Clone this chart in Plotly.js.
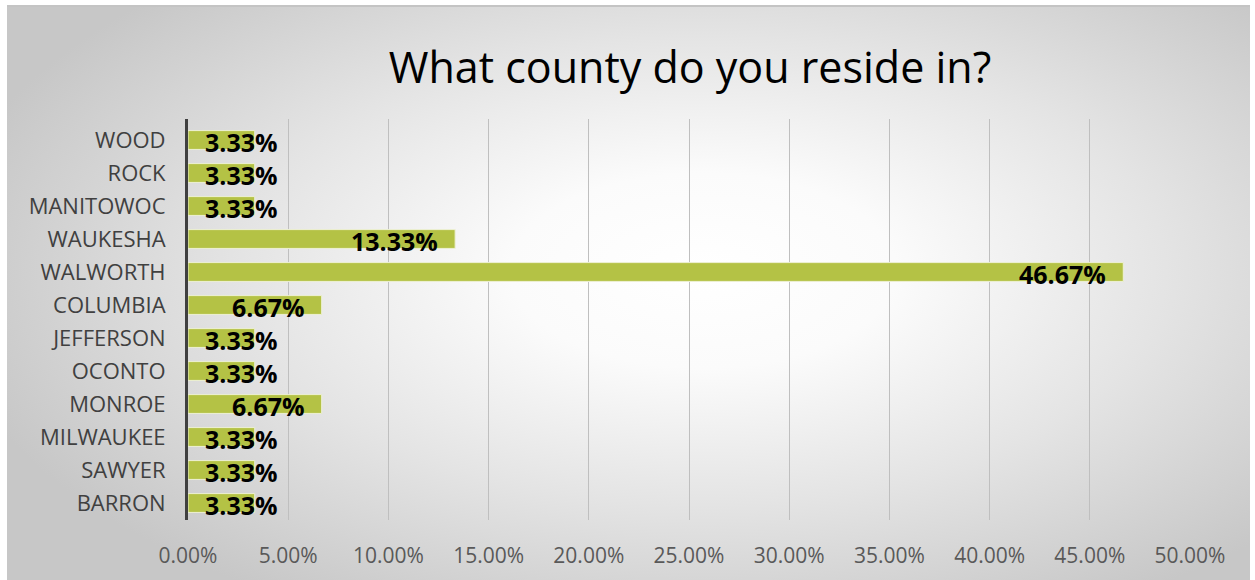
<!DOCTYPE html>
<html>
<head>
<meta charset="utf-8">
<script src="https://cdn.plot.ly/plotly-3.0.1.min.js"></script>
<style>
  html, body { margin: 0; padding: 0; background: #ffffff; }
  #bg {
    position: absolute; left: 7px; top: 5px; width: 1243px; height: 573px;
    border-top: 2px solid #c4c4c4;
    background: radial-gradient(ellipse 62% 68% at 56% 46%, #ffffff 0%, #fbfbfb 25%, #e4e4e4 60%, #c7c7c7 100%);
  }
  #chart { position: absolute; left: 0; top: 0; width: 1255px; height: 580px; }
</style>
</head>
<body>
<div id="bg"></div>
<div id="chart"></div>
<script>
const categories = ["WOOD", "ROCK", "MANITOWOC", "WAUKESHA", "WALWORTH", "COLUMBIA",
                    "JEFFERSON", "OCONTO", "MONROE", "MILWAUKEE", "SAWYER", "BARRON"];
const values = [3.33, 3.33, 3.33, 13.33, 46.67, 6.67, 3.33, 3.33, 6.67, 3.33, 3.33, 3.33];
const xTicks = [0, 5, 10, 15, 20, 25, 30, 35, 40, 45, 50];
const xTickLabels = xTicks.map(v => v.toFixed(2) + "%");
const titleText = "What county do you reside in?";

const trace = {
  type: "bar",
  orientation: "h",
  x: values,
  y: categories,
  marker: { color: "#b4c245", line: { color: "#eef1d6", width: 1 } },
  hoverinfo: "none"
};

// data labels: right-aligned just inside the bar end; short bars start from the axis
const pxPerUnit = (1190 - 188) / 50;
const annotations = values.map((v, i) => {
  const label = v.toFixed(2) + "%";
  const roomy = v * pxPerUnit > 110;
  return {
    x: roomy ? v : 0,
    y: categories[i],
    xref: "x", yref: "y",
    text: label,
    showarrow: false,
    xanchor: roomy ? "right" : "left",
    xshift: roomy ? -15 : 15,
    yshift: -2,
    font: { family: "Open Sans, Noto Sans, sans-serif", size: 25, color: "#000000", weight: 700 }
  };
});

const layout = {
  width: 1255, height: 580,
  paper_bgcolor: "rgba(0,0,0,0)",
  plot_bgcolor: "rgba(0,0,0,0)",
  margin: { l: 188, r: 65, t: 119, b: 60, pad: 0 },
  bargap: 0.43,
  showlegend: false,
  title: {
    text: titleText,
    x: 690 / 1255, xanchor: "center", xref: "container",
    y: 1 - 68 / 580, yanchor: "middle", yref: "container",
    font: { family: "Open Sans, Noto Sans, sans-serif", size: 43, color: "#000000" }
  },
  xaxis: {
    range: [0, 50],
    tickvals: xTicks,
    ticktext: xTickLabels,
    showgrid: true,
    gridcolor: "#bfbfbf",
    gridwidth: 1,
    zeroline: false,
    showline: false,
    ticks: "outside",
    ticklen: 17,
    tickcolor: "rgba(0,0,0,0)",
    tickfont: { family: "Open Sans, Noto Sans, sans-serif", size: 21, color: "#595959" },
    fixedrange: true
  },
  yaxis: {
    type: "category",
    autorange: "reversed",
    showgrid: false,
    zeroline: false,
    showline: true,
    linecolor: "#404040",
    linewidth: 3,
    ticks: "outside",
    ticklen: 15,
    tickcolor: "rgba(0,0,0,0)",
    tickfont: { family: "Open Sans, Noto Sans, sans-serif", size: 22, color: "#404040" },
    fixedrange: true
  },
  annotations: annotations
};

Plotly.newPlot("chart", [trace], layout, { displayModeBar: false, staticPlot: true });
</script>
</body>
</html>
